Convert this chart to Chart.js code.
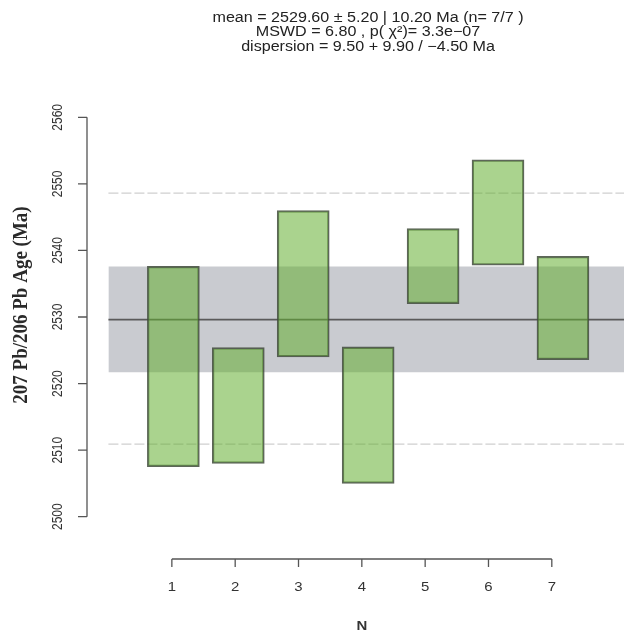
<!DOCTYPE html>
<html>
<head>
<meta charset="utf-8">
<script src="https://cdn.jsdelivr.net/npm/chart.js@4.4.0/dist/chart.umd.min.js"></script>
<style>
  html, body { margin: 0; padding: 0; background: #fff; overflow: hidden; }
  #wrap { width: 624px; height: 634px; position: relative; }
</style>
</head>
<body>
<div id="wrap"><canvas id="ageChart"></canvas></div>
<script>
// one box per aliquot: lower and upper age limit (Ma)
const aliquots = [1, 2, 3, 4, 5, 6, 7];
const ageLow  = [2507.5, 2508.0, 2524.0, 2505.0, 2532.0, 2537.8, 2523.6];
const ageHigh = [2537.6, 2525.4, 2546.0, 2525.5, 2543.3, 2553.6, 2539.1];

// weighted mean, its uncertainty band and the dispersion envelope
const meanAge = 2529.6;
const meanBand = [2521.7, 2537.6];
const dispersionLines = [2510.9, 2548.6];

const yTicks = [2500, 2510, 2520, 2530, 2540, 2550, 2560];
const xTicks = [1, 2, 3, 4, 5, 6, 7];

const titleLines = [
    'mean = 2529.60 ± 5.20 | 10.20 Ma (n= 7/7 )',
    'MSWD = 6.80 , p( χ²)= 3.3e−07',
    'dispersion = 9.50 + 9.90 / −4.50 Ma'
];

const SANS = '"Liberation Sans", Arial, sans-serif';

// horizontal line across the whole plot
function hline(value) {
    return [{ x: 0, y: value }, { x: 8, y: value }];
}

// text a little wider than the font, like the original device output
function wideText(ctx, text, x, y, sx) {
    ctx.save();
    ctx.translate(x, y);
    ctx.scale(sx, 1);
    ctx.fillText(text, 0, 0);
    ctx.restore();
}

// base-R looking axes and labels, placed with the chart's own scales
const rAxes = {
    id: 'rAxes',
    afterDraw(chart) {
        const ctx = chart.ctx;
        const y = chart.scales.y;
        const xt = chart.scales.xTicks;
        const left = chart.chartArea.left;
        const axisY = chart.chartArea.bottom + 29;

        ctx.save();
        ctx.strokeStyle = '#555';
        ctx.lineWidth = 1.3;
        ctx.fillStyle = '#333';

        // y axis
        const yTop = y.getPixelForValue(yTicks[yTicks.length - 1]);
        const yBot = y.getPixelForValue(yTicks[0]);
        ctx.beginPath();
        ctx.moveTo(left, yTop);
        ctx.lineTo(left, yBot);
        yTicks.forEach(v => {
            const py = y.getPixelForValue(v);
            ctx.moveTo(left, py);
            ctx.lineTo(left - 9, py);
        });
        ctx.stroke();

        ctx.font = '12px ' + SANS;
        ctx.textAlign = 'center';
        ctx.textBaseline = 'middle';
        yTicks.forEach(v => {
            ctx.save();
            ctx.translate(left - 29, y.getPixelForValue(v));
            ctx.rotate(-Math.PI / 2);
            ctx.scale(1, 1.15);
            ctx.fillText(String(v), 0, 0);
            ctx.restore();
        });

        // x axis
        const xL = xt.getPixelForValue(xTicks[0]);
        const xR = xt.getPixelForValue(xTicks[xTicks.length - 1]);
        ctx.beginPath();
        ctx.moveTo(xL, axisY);
        ctx.lineTo(xR, axisY);
        xTicks.forEach(v => {
            const px = xt.getPixelForValue(v);
            ctx.moveTo(px, axisY);
            ctx.lineTo(px, axisY + 8);
        });
        ctx.stroke();
        ctx.font = '13px ' + SANS;
        xTicks.forEach(v => {
            wideText(ctx, String(v), xt.getPixelForValue(v), axisY + 28, 1.15);
        });

        // axis titles
        ctx.font = 'bold 13px ' + SANS;
        wideText(ctx, 'N', xt.getPixelForValue(4), axisY + 67, 1.15);

        ctx.save();
        ctx.translate(22, y.getPixelForValue(2530) - 12);
        ctx.rotate(-Math.PI / 2);
        ctx.scale(1, 1.05);
        ctx.font = 'bold 19px "Liberation Serif", "Times New Roman", serif';
        ctx.fillStyle = '#2a2a2a';
        ctx.fillText('207 Pb/206 Pb Age (Ma)', 0, 0);
        ctx.restore();

        // summary text above the plot
        ctx.font = '14px ' + SANS;
        ctx.fillStyle = '#222';
        titleLines.forEach((t, i) => wideText(ctx, t, 368, 18 + i * 14.5, 1.15));

        ctx.restore();
    }
};

const ctx = document.getElementById('ageChart').getContext('2d');
const ageChart = new Chart(ctx, {
    type: 'bar',
    data: {
        datasets: [
            {
                type: 'bar',
                data: aliquots.map((n, i) => ({ x: n, y: [ageLow[i], ageHigh[i]] })),
                backgroundColor: 'rgba(100, 175, 50, 0.55)',
                borderColor: 'rgba(65, 75, 60, 0.85)',
                borderWidth: 1.6,
                borderSkipped: false,
                barThickness: 52,
                order: 0
            },
            {
                type: 'line',
                data: hline(meanAge),
                borderColor: '#5a5a5a',
                borderWidth: 1.6,
                pointRadius: 0,
                order: 1
            },
            {
                type: 'line',
                data: hline(dispersionLines[0]),
                borderColor: '#cfcfcf',
                borderWidth: 1.2,
                borderDash: [10, 3],
                pointRadius: 0,
                order: 2
            },
            {
                type: 'line',
                data: hline(dispersionLines[1]),
                borderColor: '#cfcfcf',
                borderWidth: 1.2,
                borderDash: [10, 3],
                pointRadius: 0,
                order: 2
            },
            {
                type: 'line',
                data: hline(meanBand[1]),
                borderWidth: 0,
                pointRadius: 0,
                backgroundColor: 'rgb(201, 203, 208)',
                fill: '+1',
                order: 3
            },
            {
                type: 'line',
                data: hline(meanBand[0]),
                borderWidth: 0,
                pointRadius: 0,
                order: 3
            }
        ]
    },
    options: {
        responsive: true,
        maintainAspectRatio: false,
        animation: false,
        layout: { padding: { left: 87, right: 0, top: 104, bottom: 104 } },
        plugins: {
            legend: { display: false },
            tooltip: { enabled: false },
            title: { display: false }
        },
        scales: {
            x: { type: 'linear', min: -0.33, max: 7.94, offset: false, display: false },
            xTicks: { type: 'linear', axis: 'x', position: 'bottom', min: -0.34, max: 8.14, offset: false, display: false },
            y: { type: 'linear', min: 2498, max: 2562, display: false }
        }
    },
    plugins: [rAxes]
});
</script>
</body>
</html>
